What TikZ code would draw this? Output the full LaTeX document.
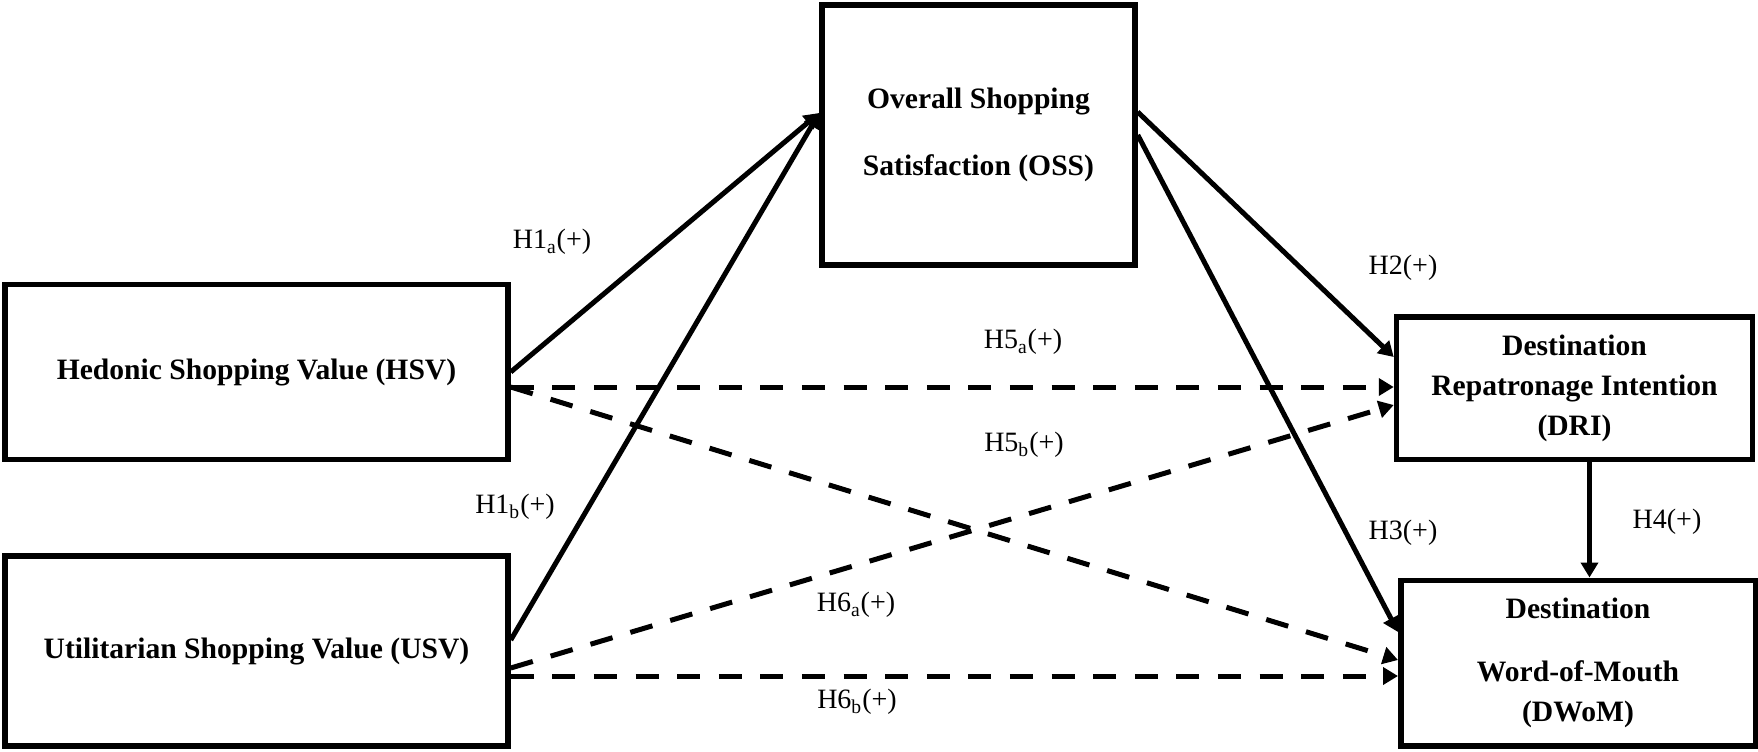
\documentclass[tikz,border=0pt]{standalone}
\usepackage{fontspec}
\setmainfont{Liberation Serif}
\usetikzlibrary{arrows.meta,calc}
\begin{document}
\begin{tikzpicture}[x=0.5pt,y=-0.5pt,
  box/.style={draw,line width=2.75pt,inner sep=0pt,align=center,
    font=\bfseries\fontsize{14.8}{20}\selectfont},
  link/.style={line width=2.5pt,-{Triangle[length=7.5pt,width=8.5pt]}},
  dlink/.style={link,dash pattern=on 11.5pt off 9.3pt},
  lab/.style={font=\fontsize{14}{17}\selectfont,inner sep=0pt}]
\useasboundingbox (0,0) rectangle (1758,751);
% boxes
\node[box,minimum width=156.5pt,minimum height=130pt] (oss) at (978.5,135)
  {Overall Shopping\\[13.5pt]Satisfaction (OSS)};
\node[box,minimum width=251.5pt,minimum height=87.5pt] (hsv) at (256.5,372)
  {Hedonic Shopping Value (HSV)};
\node[box,minimum width=251.5pt,minimum height=95pt] (usv) at (256.5,651)
  {Utilitarian Shopping Value (USV)};
\node[box,minimum width=178pt,minimum height=71.25pt] (dri) at (1574.5,388)
  {Destination\\Repatronage Intention\\(DRI)};
\node[box,minimum width=177.25pt,minimum height=82.75pt] (dwom) at (1578,663)
  {Destination\\[11.5pt]Word-of-Mouth\\(DWoM)};
% connection points
\coordinate (ossin) at ([yshift=11pt]oss.west);
\coordinate (h5s) at ([yshift=-7.5pt]hsv.east);
\coordinate (u6b) at ([yshift=-12.5pt]usv.east);
% solid arrows
\draw[link] (hsv.east) -- (ossin);
\draw[link] ([yshift=5.5pt]usv.east) -- (ossin);
\draw[link] ([yshift=11.5pt]oss.east) -- ([yshift=15.5pt]dri.west);
\draw[link] (oss.east) -- ([yshift=15.5pt]dwom.west);
\draw[link] ([xshift=7.5pt]dri.south) -- ([xshift=7.5pt]dri.south |- dwom.north);
% dashed arrows
\draw[dlink] (h5s) -- (h5s -| dri.west);
\draw[dlink] (h5s) -- ([yshift=1.5pt]dwom.west);
\draw[dlink] ([yshift=-8.5pt]usv.east) -- ([yshift=-8.5pt]dri.west);
\draw[dlink] (u6b) -- (u6b -| dwom.west);
% labels
\node[lab] (l1a) at (552,242) {H1\textsubscript{a}(+)};
\node[lab] (l1b) at (515,507) {H1\textsubscript{b}(+)};
\node[lab] (l5a) at (1023,342) {H5\textsubscript{a}(+)};
\node[lab] (l5b) at (1024,445) {H5\textsubscript{b}(+)};
\node[lab] (l6a) at (856,605) {H6\textsubscript{a}(+)};
\node[lab] (l6b) at (857,702) {H6\textsubscript{b}(+)};
\node[lab] (l2) at (1403,268) {H2(+)};
\node[lab] (l3) at (1403,533) {H3(+)};
\node[lab] (l4) at (1667,522) {H4(+)};
\end{tikzpicture}
\end{document}
